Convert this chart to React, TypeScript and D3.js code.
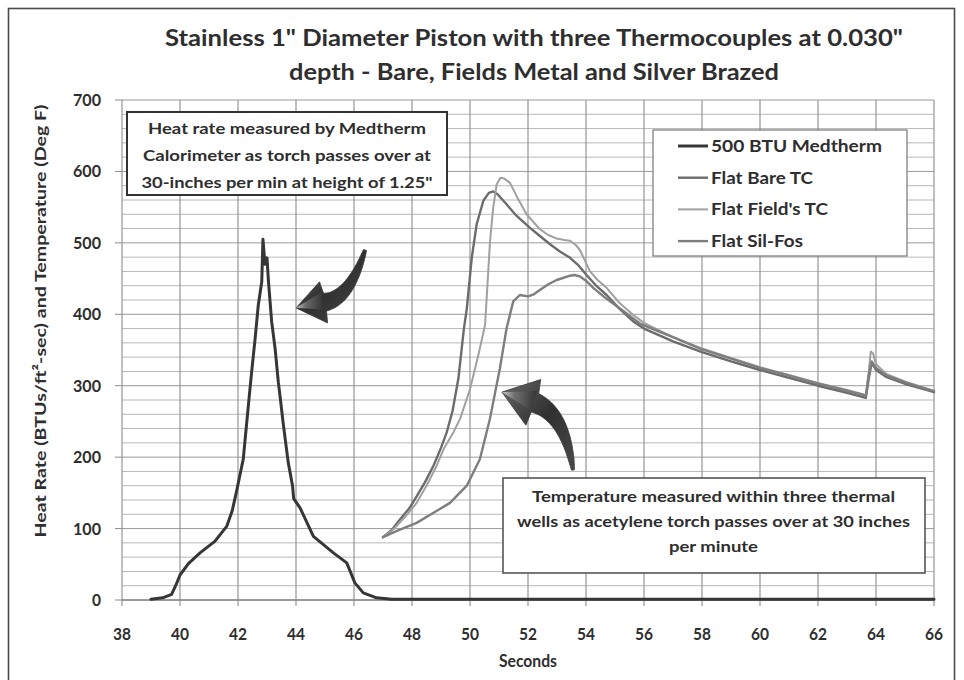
import React from "react";
import * as d3 from "d3";

// ---------- data ----------
const xTicks = [38, 40, 42, 44, 46, 48, 50, 52, 54, 56, 58, 60, 62, 64, 66];
const yTicks = [0, 100, 200, 300, 400, 500, 600, 700];
const yMinor = d3.range(0, 701, 20);

const seriesNames = ["500 BTU Medtherm", "Flat Bare TC", "Flat Field's TC", "Flat Sil-Fos"];

const medthermT = [39.0, 39.4, 39.71, 39.85, 40.0, 40.29, 40.69, 41.2, 41.61, 41.8, 41.95, 42.18, 42.39, 42.47, 42.59, 42.7, 42.82, 42.86, 42.93, 43.0, 43.05, 43.16, 43.28, 43.39, 43.46, 43.55, 43.73, 43.88, 43.92, 44.14, 44.6, 45.29, 45.75, 46.03, 46.32, 46.78, 47.3, 50, 55, 60, 66];
const medthermV = [1, 3, 8, 20, 35, 51, 66, 82, 103, 125, 152, 197, 286, 319, 366, 413, 446, 505, 470, 479, 446, 390, 352, 305, 282, 250, 193, 160, 142, 129, 89, 66, 52, 24, 10, 3, 1, 1, 1, 1, 1];

const bareT = [47.0, 47.3, 47.59, 47.9, 48.16, 48.45, 48.74, 49.0, 49.2, 49.4, 49.6, 49.79, 49.89, 50.06, 50.23, 50.46, 50.65, 50.8, 50.95, 51.26, 51.6, 52.07, 52.4, 52.76, 53.1, 53.45, 53.75, 54.02, 54.35, 54.71, 55.15, 55.63, 56, 57, 58, 59, 60, 61, 62, 63, 63.65, 63.75, 63.85, 64.0, 64.37, 65.06, 66];
const bareV = [88, 98, 113, 128, 145, 165, 188, 213, 235, 265, 310, 380, 408, 479, 526, 559, 570, 572, 568, 554, 538, 521, 510, 498, 488, 479, 468, 455, 440, 427, 408, 390, 380, 362, 347, 334, 322, 311, 300, 290, 283, 310, 332, 322, 312, 302, 291];

const fieldT = [47.0, 47.36, 47.8, 48.16, 48.5, 48.85, 49.1, 49.43, 49.66, 50.0, 50.3, 50.52, 50.6, 50.69, 50.8, 50.92, 51.05, 51.18, 51.38, 51.65, 51.95, 52.41, 52.7, 52.99, 53.25, 53.45, 53.65, 53.79, 54.0, 54.14, 54.4, 54.71, 55.15, 55.63, 56, 57, 58, 59, 60, 61, 62, 63, 63.65, 63.75, 63.82, 63.9, 64.0, 64.37, 65.06, 66];
const fieldV = [88, 99, 118, 136, 160, 188, 212, 235, 254, 295, 345, 385, 440, 502, 549, 582, 591, 590, 584, 562, 540, 519, 511, 506, 504, 503, 497, 490, 472, 460, 448, 437, 416, 399, 388, 368, 352, 339, 326, 315, 304, 294, 287, 320, 348, 345, 330, 316, 305, 293];

const silT = [47.0, 47.5, 48.16, 48.7, 49.31, 49.89, 50.34, 50.69, 51.03, 51.26, 51.49, 51.72, 52.0, 52.2, 52.41, 52.7, 52.99, 53.45, 53.6, 53.79, 54.0, 54.25, 54.7, 55.17, 55.86, 56.5, 57, 58, 59, 60, 61, 62, 63, 63.65, 63.75, 63.85, 64.0, 64.37, 65.06, 66];
const silV = [88, 97, 108, 121, 136, 160, 197, 254, 324, 380, 418, 427, 425, 428, 434, 442, 448, 454, 455, 453, 447, 437, 422, 408, 387, 376, 368, 351, 338, 325, 314, 303, 293, 286, 314, 334, 325, 314, 304, 292];

const seriesT = [medthermT, bareT, fieldT, silT];
const seriesV = [medthermV, bareV, fieldV, silV];

// annotation arrows in data units: tail, control, head base, tip
const arrowTails = [[46.38, 490], [53.55, 182]];
const arrowCtrls = [[45.86, 423], [53.28, 259]];
const arrowBases = [[45.0, 417], [52.24, 276]];
const arrowTips = [[44.0, 409], [51.1, 291]];

const titleLines = ["Stainless 1\" Diameter Piston with three Thermocouples at 0.030\"", "depth - Bare, Fields Metal and Silver Brazed"];
const note1Lines = ["Heat rate measured by Medtherm", "Calorimeter as torch passes over at", "30-inches per min at height of 1.25\""];
const note2Lines = ["Temperature measured within three thermal", "wells as acetylene torch passes over at 30 inches", "per minute"];

// ---------- styles ----------
const W = 964, H = 680;
const left = 122, right = 934, top = 100, bottom = 600;
const colors = ["#363636", "#6c6c6c", "#a0a0a0", "#7e7e7e"];
const widths = [3.0, 2.4, 2.0, 2.4];
const FONT = "Lato, 'Open Sans', sans-serif";
const TXT = "#2e2e2e";

function arrowPath(tail: number[], ctrl: number[], base: number[], tip: number[], tailW: number, neckW: number, headW: number) {
  const n = 30;
  const L: number[][] = [], R: number[][] = [];
  for (let i = 0; i <= n; i++) {
    const t = i / n;
    const px = (1 - t) * (1 - t) * tail[0] + 2 * (1 - t) * t * ctrl[0] + t * t * base[0];
    const py = (1 - t) * (1 - t) * tail[1] + 2 * (1 - t) * t * ctrl[1] + t * t * base[1];
    const dx = 2 * (1 - t) * (ctrl[0] - tail[0]) + 2 * t * (base[0] - ctrl[0]);
    const dy = 2 * (1 - t) * (ctrl[1] - tail[1]) + 2 * t * (base[1] - ctrl[1]);
    const len = Math.hypot(dx, dy) || 1;
    const nx = -dy / len, ny = dx / len;
    const w = (tailW + (neckW - tailW) * Math.pow(t, 0.8)) / 2;
    L.push([px + nx * w, py + ny * w]);
    R.push([px - nx * w, py - ny * w]);
  }
  const hx = tip[0] - base[0], hy = tip[1] - base[1];
  const hl = Math.hypot(hx, hy);
  const nx = -hy / hl, ny = hx / hl;
  const wingL = [base[0] + nx * headW / 2 + hx * 0.05, base[1] + ny * headW / 2 + hy * 0.05];
  const wingR = [base[0] - nx * headW / 2 + hx * 0.05, base[1] - ny * headW / 2 + hy * 0.05];
  const pts = [...L, wingL, tip, wingR, ...R.reverse()];
  return "M" + pts.map((p) => p[0].toFixed(1) + "," + p[1].toFixed(1)).join("L") + "Z";
}

export default function App() {
  const x = d3.scaleLinear().domain([38, 66]).range([left, right]);
  const y = d3.scaleLinear().domain([0, 700]).range([bottom, top]);
  const line = d3.line<number[]>().x((d) => x(d[0])).y((d) => y(d[1]));

  const toPx = (p: number[]) => [x(p[0]), y(p[1])];

  return (
    <svg width={W} height={H} style={{ position: "absolute", left: 0, top: 0, display: "block", background: "#fff" }} fontFamily={FONT}>
      <defs>
        <linearGradient id="arrowGrad" x1="0" y1="0" x2="1" y2="1">
          <stop offset="0" stopColor="#6a6a6a" />
          <stop offset="0.5" stopColor="#303030" />
          <stop offset="1" stopColor="#4a4a4a" />
        </linearGradient>
        <linearGradient id="headGrad" x1="0" y1="0" x2="1" y2="0">
          <stop offset="0" stopColor="#f0f0f0" />
          <stop offset="0.35" stopColor="#7a7a7a" />
          <stop offset="1" stopColor="#2e2e2e" />
        </linearGradient>
      </defs>
      <rect x={0} y={0} width={W} height={H} fill="#fff" />
      {/* outer frame */}
      <rect x={8.5} y={8.5} width={946} height={700} fill="none" stroke="#4a4a4a" strokeWidth={1.6} />

      {/* title */}
      {titleLines.map((t, i) => (
        <text key={i} x={534} y={46 + i * 34} textAnchor="middle" fontSize={22} fontWeight={700} fill={TXT}
          textLength={i === 0 ? 738 : 490} lengthAdjust="spacingAndGlyphs">{t}</text>
      ))}

      {/* grid */}
      {yMinor.map((v) => (
        <line key={"h" + v} x1={left} x2={right} y1={y(v)} y2={y(v)} stroke={v % 100 === 0 ? "#9a9a9a" : "#b8b8b8"} strokeWidth={1} />
      ))}
      {xTicks.map((v) => (
        <line key={"v" + v} x1={x(v)} x2={x(v)} y1={top} y2={bottom + 6} stroke="#8c8c8c" strokeWidth={1.1} />
      ))}
      {yTicks.map((v) => (
        <line key={"yt" + v} x1={left - 7} x2={left} y1={y(v)} y2={y(v)} stroke="#8c8c8c" strokeWidth={1} />
      ))}
      <line x1={left} x2={right} y1={bottom} y2={bottom} stroke="#888" strokeWidth={1.3} />

      {/* tick labels */}
      {yTicks.map((v) => (
        <text key={"yl" + v} x={101} y={y(v) + 6} textAnchor="end" fontSize={17} fontWeight={700} fill={TXT}
          textLength={v === 0 ? 9 : 28} lengthAdjust="spacingAndGlyphs">{v}</text>
      ))}
      {xTicks.map((v) => (
        <text key={"xl" + v} x={x(v)} y={640} textAnchor="middle" fontSize={17} fontWeight={700} fill={TXT}
          textLength={18} lengthAdjust="spacingAndGlyphs">{v}</text>
      ))}
      <text x={528} y={667} textAnchor="middle" fontSize={16.5} fontWeight={700} fill={TXT}
        textLength={58} lengthAdjust="spacingAndGlyphs">Seconds</text>
      <text transform="translate(46,321) rotate(-90)" textAnchor="middle" fontSize={16} fontWeight={700} fill={TXT}
        textLength={433} lengthAdjust="spacingAndGlyphs">Heat Rate (BTUs/ft²-sec) and Temperature (Deg F)</text>

      {/* series */}
      {seriesT.map((ts, i) => (
        <path key={"s" + i} d={line(ts.map((t, j) => [t, seriesV[i][j]])) || ""} fill="none" stroke={colors[i]} strokeWidth={widths[i]} strokeLinejoin="round" strokeLinecap="round" />
      ))}

      {/* arrows */}
      {arrowTails.map((_, i) => {
        const tail = toPx(arrowTails[i]), ctrl = toPx(arrowCtrls[i]), base = toPx(arrowBases[i]), tip = toPx(arrowTips[i]);
        const headW = i === 0 ? 42 : 48;
        const hx = tip[0] - base[0], hy = tip[1] - base[1];
        const hl = Math.hypot(hx, hy);
        const nx = -hy / hl, ny = hx / hl;
        const hw = headW / 2;
        const c = [base[0] + hx * 0.05, base[1] + hy * 0.05];
        const hl2 = `${tip[0]},${tip[1]} ${c[0] + nx * hw * 0.5},${c[1] + ny * hw * 0.5} ${c[0]},${c[1]} ${c[0] - nx * hw * 0.35},${c[1] - ny * hw * 0.35}`;
        return (
          <g key={"a" + i}>
            <path d={arrowPath(tail, ctrl, base, tip, 3, i === 0 ? 18 : 20, headW)} fill="url(#arrowGrad)" stroke="#3a3a3a" strokeWidth={0.8} />
            <polygon points={hl2} fill="url(#headGrad)" opacity={0.75} />
          </g>
        );
      })}

      {/* note 1 */}
      <rect x={127} y={112} width={320} height={83} fill="#fff" stroke="#333" strokeWidth={2} />
      {note1Lines.map((t, i) => (
        <text key={"n1" + i} x={287} y={134 + i * 27} textAnchor="middle" fontSize={16} fontWeight={700} fill={TXT}
          textLength={[278, 288, 291][i]} lengthAdjust="spacingAndGlyphs">{t}</text>
      ))}

      {/* note 2 */}
      <rect x={503} y={478} width={422} height={95} fill="#fff" stroke="#555" strokeWidth={1.6} />
      {note2Lines.map((t, i) => (
        <text key={"n2" + i} x={713.5} y={502 + i * 25} textAnchor="middle" fontSize={16} fontWeight={700} fill={TXT}
          textLength={[363, 393, 89][i]} lengthAdjust="spacingAndGlyphs">{t}</text>
      ))}

      {/* legend */}
      <rect x={653} y={130} width={254} height={126} fill="#fff" stroke="#777" strokeWidth={1.2} />
      {seriesNames.map((n, i) => (
        <g key={"lg" + i}>
          <line x1={678} x2={708} y1={146 + i * 31.7} y2={146 + i * 31.7} stroke={colors[i]} strokeWidth={widths[i]} />
          <text x={711} y={152 + i * 31.7} fontSize={17} fontWeight={700} fill={TXT}
            textLength={[171, 102, 117, 92][i]} lengthAdjust="spacingAndGlyphs">{n}</text>
        </g>
      ))}
    </svg>
  );
}
